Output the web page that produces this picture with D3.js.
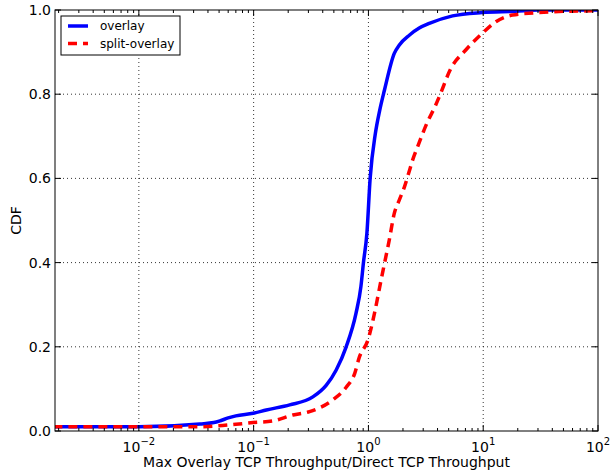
<!DOCTYPE html>
<html>
<head>
<meta charset="utf-8">
<script src="https://cdn.jsdelivr.net/npm/d3@7"></script>
<style>
  body { margin: 0; background: #fff; }
  svg text { font-family: "DejaVu Sans", sans-serif; fill: #000; }
</style>
</head>
<body>
<div id="chart"></div>
<script>
// CDF readings
var overlayX = [0.0018, 0.01, 0.034, 0.045, 0.052, 0.06, 0.07, 0.099, 0.129, 0.206, 0.328, 0.43, 0.524, 0.64, 0.78, 0.86, 0.905, 0.97, 1.035, 1.15, 1.25, 1.38, 1.68, 1.86, 2.27, 2.77, 3.39, 5.41, 9.8, 19, 30, 100];
var overlayY = [0.01, 0.01, 0.0166, 0.02, 0.025, 0.031, 0.036, 0.042, 0.05, 0.062, 0.081, 0.109, 0.145, 0.2, 0.28, 0.343, 0.4, 0.47, 0.6, 0.707, 0.76, 0.81, 0.897, 0.917, 0.94, 0.957, 0.968, 0.986, 0.994, 0.997, 1.0, 1.0];
var splitX = [0.0018, 0.03, 0.048, 0.07, 0.099, 0.148, 0.22, 0.307, 0.49, 0.64, 0.76, 0.835, 0.99, 1.13, 1.29, 1.38, 1.52, 1.68, 1.86, 2.06, 2.24, 2.43, 2.68, 3.28, 3.75, 4.2, 5.2, 7.05, 9.86, 12.9, 18, 27.6, 53, 100];
var splitY = [0.01, 0.01, 0.012, 0.016, 0.02, 0.024, 0.038, 0.046, 0.074, 0.104, 0.137, 0.176, 0.216, 0.28, 0.359, 0.398, 0.454, 0.517, 0.549, 0.58, 0.612, 0.644, 0.675, 0.735, 0.767, 0.798, 0.86, 0.905, 0.945, 0.972, 0.988, 0.993, 0.997, 0.998];
var seriesNames = ["overlay", "split-overlay"];
var xMajor = [-2, -1, 0, 1, 2];          // exponents of 10
var yTicks = [0, 0.2, 0.4, 0.6, 0.8, 1.0];

var W = 613, H = 471;
var margin = {top: 10, right: 15, bottom: 40, left: 55},
    width = W - margin.left - margin.right,
    height = H - margin.top - margin.bottom;

var svg = d3.select("#chart").append("svg")
    .attr("width", W).attr("height", H);

var g = svg.append("g")
    .attr("transform", "translate(" + margin.left + "," + margin.top + ")");

var x = d3.scaleLog().domain([0.00186, 100]).range([0, width]);
var y = d3.scaleLinear().domain([0, 1]).range([height, 0]);

svg.append("defs").append("clipPath").attr("id", "clip")
  .append("rect").attr("width", width).attr("height", height);

// grid
var gridX = xMajor.map(function(e) { return Math.pow(10, e); }).filter(function(v) { return v > 0.002 && v < 100; });
g.selectAll(".gx").data(gridX).enter().append("line")
  .attr("x1", function(d) { return x(d); }).attr("x2", function(d) { return x(d); })
  .attr("y1", 0).attr("y2", height)
  .attr("stroke", "#000").attr("stroke-width", 0.8).attr("stroke-dasharray", "1,3");
g.selectAll(".gy").data(yTicks.slice(1, -1)).enter().append("line")
  .attr("y1", function(d) { return y(d); }).attr("y2", function(d) { return y(d); })
  .attr("x1", 0).attr("x2", width)
  .attr("stroke", "#000").attr("stroke-width", 0.8).attr("stroke-dasharray", "1,3");

// lines
var line = d3.line().curve(d3.curveMonotoneX)
  .x(function(d) { return x(d[0]); }).y(function(d) { return y(d[1]); });
var overlay = overlayX.map(function(v, i) { return [v, overlayY[i]]; });
var split = splitX.map(function(v, i) { return [v, splitY[i]]; });

var plot = g.append("g").attr("clip-path", "url(#clip)");
plot.append("path").datum(overlay).attr("d", line)
  .attr("fill", "none").attr("stroke", "#0000ff").attr("stroke-width", 3.5)
  .attr("stroke-linejoin", "round");
plot.append("path").datum(split).attr("d", line)
  .attr("fill", "none").attr("stroke", "#ff0000").attr("stroke-width", 3.5)
  .attr("stroke-dasharray", "9,6");

// ticks (inward, all four sides)
var minor = [];
for (var e = -3; e < 2; e++) {
  for (var k = 2; k < 10; k++) {
    var v = k * Math.pow(10, e);
    if (v > 0.00186 && v < 100) minor.push(v);
  }
}
var majorV = xMajor.map(function(e) { return Math.pow(10, e); });

function xticks(vals, len) {
  g.selectAll(null).data(vals).enter().append("line")
    .attr("x1", function(d) { return x(d); }).attr("x2", function(d) { return x(d); })
    .attr("y1", height).attr("y2", height - len).attr("stroke", "#000");
  g.selectAll(null).data(vals).enter().append("line")
    .attr("x1", function(d) { return x(d); }).attr("x2", function(d) { return x(d); })
    .attr("y1", 0).attr("y2", len).attr("stroke", "#000");
}
xticks(majorV, 6);
xticks(minor, 3);

g.selectAll(null).data(yTicks).enter().append("line")
  .attr("x1", 0).attr("x2", 6)
  .attr("y1", function(d) { return y(d); }).attr("y2", function(d) { return y(d); })
  .attr("stroke", "#000");
g.selectAll(null).data(yTicks).enter().append("line")
  .attr("x1", width).attr("x2", width - 6)
  .attr("y1", function(d) { return y(d); }).attr("y2", function(d) { return y(d); })
  .attr("stroke", "#000");

// frame
g.append("rect").attr("width", width).attr("height", height)
  .attr("fill", "none").attr("stroke", "#000").attr("stroke-width", 1);

// tick labels
g.selectAll(null).data(yTicks).enter().append("text")
  .attr("x", -4).attr("y", function(d) { return y(d); })
  .attr("dy", "0.36em").attr("text-anchor", "end")
  .style("font-size", "14px")
  .text(function(d) { return d.toFixed(1); });

var xl = g.selectAll(null).data(xMajor).enter().append("text")
  .attr("x", function(e) { return x(Math.pow(10, e)); })
  .attr("y", height + 21)
  .attr("text-anchor", "middle")
  .style("font-size", "14px");
xl.append("tspan").text("10");
xl.append("tspan").attr("dy", -7).style("font-size", "10px")
  .text(function(e) { return e < 0 ? "\u2212" + (-e) : String(e); });

// axis titles
g.append("text").attr("x", width / 2).attr("y", height + 36)
  .attr("text-anchor", "middle").style("font-size", "14px")
  .text("Max Overlay TCP Throughput/Direct TCP Throughput");
g.append("text")
  .attr("transform", "translate(" + (-34) + "," + (height / 2) + ") rotate(-90)")
  .attr("text-anchor", "middle").style("font-size", "14px")
  .text("CDF");

// legend
var leg = g.append("g").attr("transform", "translate(6,6)");
leg.append("rect").attr("width", 119).attr("height", 39)
  .attr("fill", "#fff").attr("stroke", "#000").attr("stroke-width", 1);
var colors = ["#0000ff", "#ff0000"];
seriesNames.forEach(function(name, i) {
  var yy = 10 + i * 17.5;
  leg.append("line").attr("x1", 7).attr("x2", 27).attr("y1", yy).attr("y2", yy)
    .attr("stroke", colors[i]).attr("stroke-width", 3.5)
    .attr("stroke-dasharray", i === 1 ? "9,6" : null);
  leg.append("text").attr("x", 39).attr("y", yy).attr("dy", "0.36em")
    .style("font-size", "12px").text(name);
});
</script>
</body>
</html>
